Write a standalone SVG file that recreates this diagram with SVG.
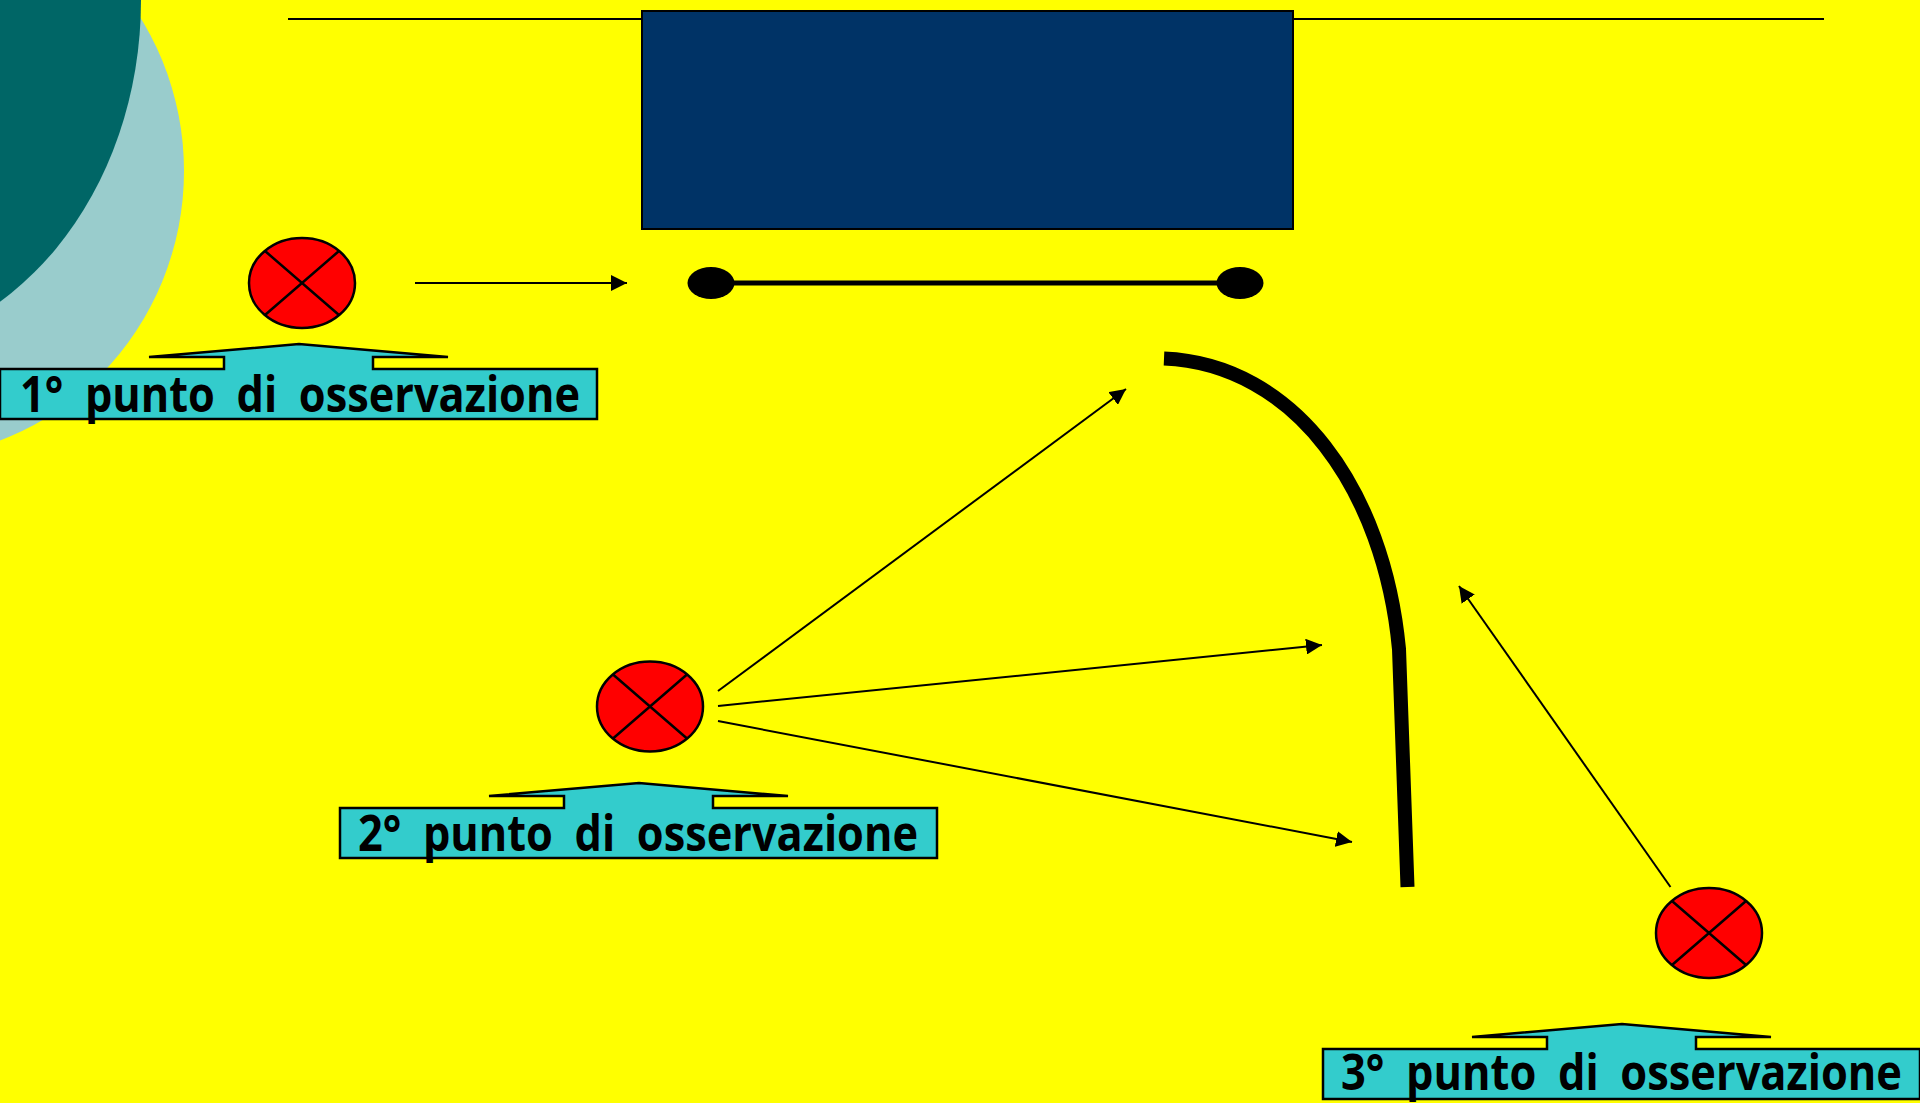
<svg xmlns="http://www.w3.org/2000/svg" width="1920" height="1103" viewBox="0 0 1920 1103">
<style>
.ln{fill:none;stroke:#000;stroke-width:2}
.ar{marker-end:url(#h)}
.c{fill:#f00;stroke:#000;stroke-width:2.5}
.x{stroke:#000;stroke-width:2.5;fill:none}
.b{fill:#3cc;stroke:#000;stroke-width:2.5}
.t{font-family:"Open Sans","DejaVu Sans",sans-serif;font-weight:700;font-size:50px;fill:#000;word-spacing:12px}
</style>
<defs>
<marker id="h" markerUnits="userSpaceOnUse" markerWidth="16" markerHeight="16" refX="16" refY="8" orient="auto"><path d="M0 0L16 8L0 16Z" fill="#000"/></marker>
<path id="cross" d="M-37 -32L37 32M37 -32L-37 32"/>
<path id="callout" d="M0 25H224V13H149L299 0L448 13H373V25H597V75H0Z"/>
</defs>
<rect width="1920" height="1103" fill="#ff0"/>
<g id="background">
<ellipse cx="-100" cy="171" rx="284" ry="288" fill="#9cc"/>
<ellipse cx="-150" cy="0" rx="291" ry="352" fill="#066"/>
</g>
<g id="building">
<path class="ln" d="M288 19H642M1293 19H1824"/>
<rect x="642" y="11" width="651" height="218" fill="#036" stroke="#000" stroke-width="2"/>
</g>
<g id="bar">
<path d="M711 283H1240" stroke="#000" stroke-width="5" fill="none"/>
<ellipse cx="711" cy="283" rx="23.500" ry="16"/>
<ellipse cx="1240" cy="283" rx="23.500" ry="16"/>
</g>
<g id="wall">
<path d="M1164 358.500C1295 364 1384 490 1399 649L1407.500 887" fill="none" stroke="#000" stroke-width="14"/>
</g>
<g id="connectors">
<path class="ln ar" d="M415 283H627"/>
<path class="ln ar" d="M718 691L1126 389"/>
<path class="ln ar" d="M718 706L1322 645"/>
<path class="ln ar" d="M718 721L1352 842"/>
<path class="ln ar" d="M1670.500 887L1459 586"/>
</g>
<g id="point1">
<ellipse class="c" cx="302" cy="283" rx="53" ry="45"/>
<use href="#cross" class="x" x="302" y="283"/>
</g>
<g id="point2">
<ellipse class="c" cx="650" cy="706.500" rx="53" ry="45"/>
<use href="#cross" class="x" x="650" y="706.500"/>
</g>
<g id="point3">
<ellipse class="c" cx="1709" cy="933" rx="53" ry="45"/>
<use href="#cross" class="x" x="1709" y="933"/>
</g>
<g id="callout1">
<use href="#callout" class="b" x="0" y="344"/>
<text class="t" x="20" y="412" textLength="560" lengthAdjust="spacingAndGlyphs">1° punto di osservazione</text>
</g>
<g id="callout2">
<use href="#callout" class="b" x="340" y="783"/>
<text class="t" x="358" y="851" textLength="560" lengthAdjust="spacingAndGlyphs">2° punto di osservazione</text>
</g>
<g id="callout3">
<use href="#callout" class="b" x="1323" y="1024"/>
<text class="t" x="1341" y="1090" textLength="561" lengthAdjust="spacingAndGlyphs">3° punto di osservazione</text>
</g>
</svg>
